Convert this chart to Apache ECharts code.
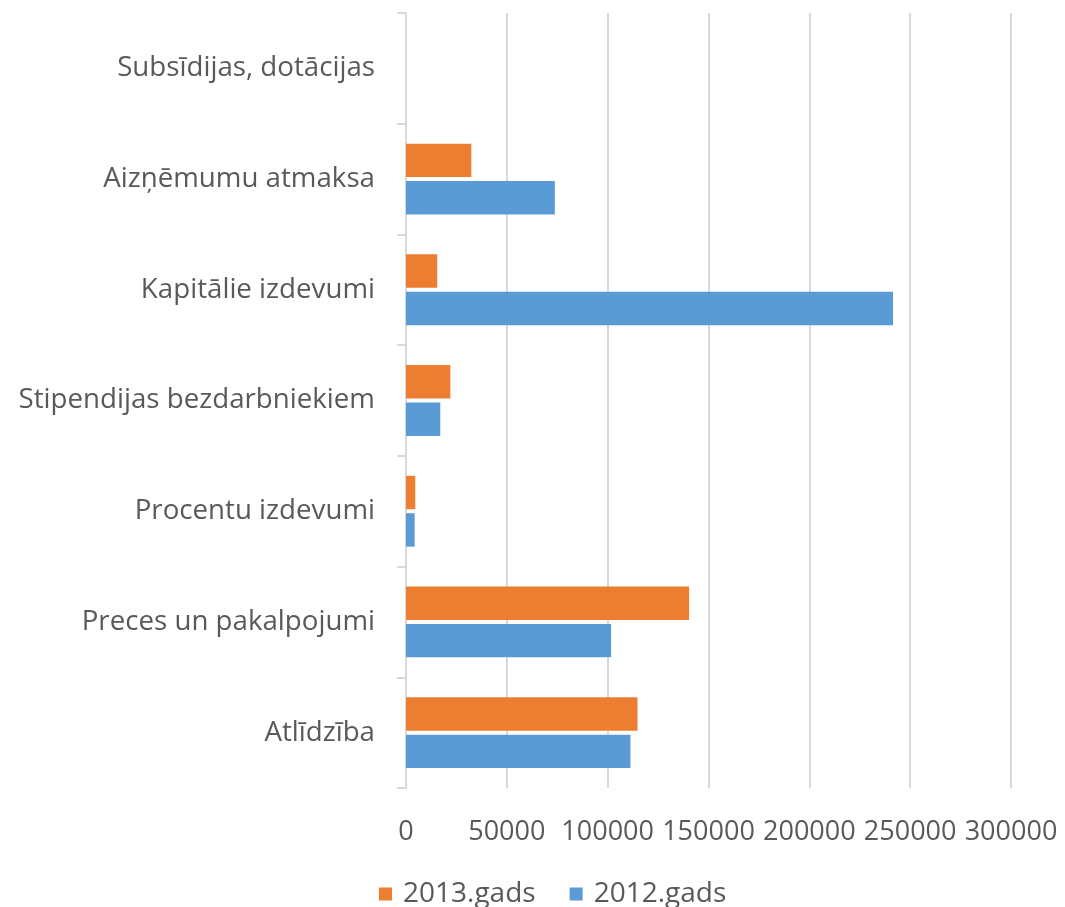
<!DOCTYPE html>
<html>
<head>
<meta charset="utf-8">
<script src="https://cdn.jsdelivr.net/npm/echarts@6/dist/echarts.min.js"></script>
<style>
html,body{margin:0;padding:0;background:#fff;}
#chart{width:1065px;height:907px;}
</style>
</head>
<body>
<div id="chart"></div>
<script>
const categories = ['Atlīdzība', 'Preces un pakalpojumi', 'Procentu izdevumi', 'Stipendijas bezdarbniekiem', 'Kapitālie izdevumi', 'Aizņēmumu atmaksa', 'Subsīdijas, dotācijas'];
const values2013 = [114800, 140400, 4600, 22000, 15500, 32400, 0];
const values2012 = [111300, 101700, 4300, 17000, 241500, 73800, 0];
const seriesNames = ['2013.gads', '2012.gads'];
const xTicks = [0, 50000, 100000, 150000, 200000, 250000, 300000];

const font = '"Open Sans", "Noto Sans", sans-serif';
const textColor = '#595959';

const chart = echarts.init(document.getElementById('chart'), null, {renderer: 'canvas'});
chart.setOption({
  animation: false,
  backgroundColor: '#fff',
  grid: {left: 406, right: 54, top: 13, bottom: 119, containLabel: false},
  legend: {
    data: seriesNames,
    top: 875,
    left: 374,
    itemWidth: 13,
    itemHeight: 13,
    itemGap: 34,
    icon: 'rect',
    textStyle: {fontFamily: font, fontSize: 28, color: textColor, padding: [0, 0, 0, 6]}
  },
  xAxis: {
    type: 'value',
    min: xTicks[0],
    max: xTicks[xTicks.length - 1],
    interval: xTicks[1] - xTicks[0],
    axisLine: {show: false},
    axisTick: {show: false},
    splitLine: {show: true, lineStyle: {color: '#d9d9d9', width: 2}},
    axisLabel: {fontFamily: font, fontSize: 27, color: textColor, margin: 31, formatter: function (v) { return String(v); }}
  },
  yAxis: {
    type: 'category',
    data: categories,
    axisLine: {show: true, lineStyle: {color: '#d9d9d9', width: 2}},
    axisTick: {show: true, length: 9, lineStyle: {color: '#d9d9d9', width: 2}},
    axisLabel: {fontFamily: font, fontSize: 27.7, color: textColor, margin: 31}
  },
  series: [
    {
      name: seriesNames[0],
      type: 'bar',
      data: values2013,
      barGap: '12%',
      barCategoryGap: '36%',
      itemStyle: {color: '#ED7D31'}
    },
    {
      name: seriesNames[1],
      type: 'bar',
      data: values2012,
      barGap: '12%',
      barCategoryGap: '36%',
      itemStyle: {color: '#5B9BD5'}
    }
  ]
});
</script>
</body>
</html>
